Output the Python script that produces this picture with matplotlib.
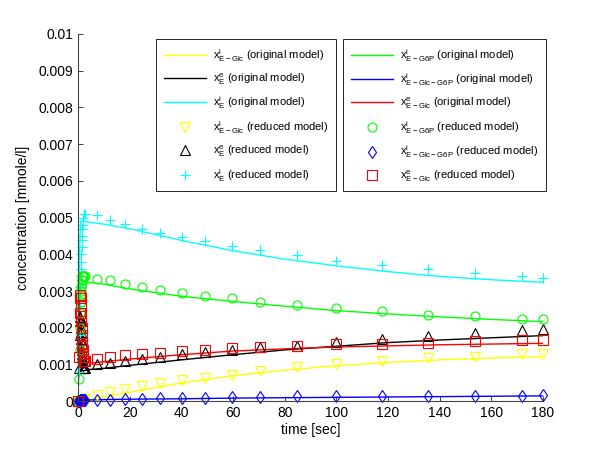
import matplotlib
matplotlib.use('Agg')
import matplotlib.pyplot as plt

plt.rcParams['font.family'] = ['Liberation Sans', 'DejaVu Sans']
plt.rcParams['mathtext.fontset'] = 'custom'
plt.rcParams['mathtext.rm'] = 'Liberation Sans'
plt.rcParams['mathtext.it'] = 'Liberation Sans'

# original model (lines)
t_orig = [0, 0.3, 0.6, 1.0, 1.5, 2, 3, 5, 10, 20, 40, 60, 80, 100, 120, 140, 160, 180]
yellow_orig = [0, 0, 0, 0.00001, 0.00001, 0.00002, 0.00003, 0.00005, 0.00012, 0.00025,
               0.0005, 0.0007, 0.00085, 0.00097, 0.00106, 0.00113, 0.00118, 0.00122]
black_orig = [0, 0.0011, 0.0021, 0.0018, 0.0012, 0.0010, 0.00088, 0.00087, 0.0009, 0.00098,
              0.00113, 0.00127, 0.0014, 0.0015, 0.0016, 0.00167, 0.00173, 0.00179]
cyan_orig = [0, 0.002, 0.004, 0.0049, 0.00492, 0.0049, 0.00489, 0.00487, 0.00482, 0.0047,
             0.00438, 0.0041, 0.00387, 0.00369, 0.00353, 0.0034, 0.00331, 0.00324]
green_orig = [0, 0.0012, 0.0025, 0.0032, 0.00326, 0.00325, 0.00324, 0.00323, 0.00319, 0.00306,
              0.00286, 0.00272, 0.00259, 0.00247, 0.00238, 0.0023, 0.00223, 0.00217]
blue_orig = [0, 0, 0.00001, 0.00002, 0.00003, 0.00003, 0.00004, 0.00004, 0.00005, 0.00006,
             0.00007, 0.00009, 0.0001, 0.00011, 0.00012, 0.00013, 0.00014, 0.00015]
red_orig = [0, 0.0015, 0.0027, 0.0024, 0.0017, 0.0013, 0.00106, 0.00104, 0.00108, 0.00115,
            0.00127, 0.00137, 0.00143, 0.00148, 0.00151, 0.00154, 0.00156, 0.00158]

# reduced model (markers): dense solver steps at the start, then the coarse grid
t_red = [0.0, 0.3, 0.6, 0.8, 0.9, 1.0, 1.1, 1.2, 1.3, 1.4, 1.5, 1.6, 1.7, 1.8, 1.9, 2.0, 2.2,
         2.7, 7.3, 12.4, 18.2, 24.8, 31.9, 40.4, 49.3, 59.6, 70.5, 84.7, 99.8, 117.6, 135.4,
         153.6, 171.8, 180]
yellow_red = [0, 0, 0, 0.00001, 0.00001, 0.00001, 0.00002, 0.00002, 0.00002, 0.00003, 0.00003,
              0.00003, 0.00003, 0.00004, 0.00004, 0.00004, 0.00005,
              0.00007, 0.00017, 0.00025, 0.00033, 0.00042, 0.00051, 0.00057, 0.00064, 0.00073,
              0.00084, 0.00093, 0.00102, 0.00111, 0.00119, 0.00122, 0.00128, 0.0013]
black_red = [0, 0.0009, 0.0018, 0.0022, 0.0023, 0.0022, 0.002, 0.0019, 0.0017, 0.0016, 0.0014,
             0.0013, 0.0012, 0.0011, 0.001, 0.0009, 0.0009,
             0.0009, 0.00101, 0.00104, 0.00111, 0.00116, 0.00122, 0.00128, 0.00134, 0.00139,
             0.00148, 0.00152, 0.00161, 0.0017, 0.00179, 0.00186, 0.00193, 0.00196]
cyan_red = [0, 0.0008, 0.0018, 0.0026, 0.0031, 0.0034, 0.0036, 0.0038, 0.004, 0.0042, 0.0044,
            0.0045, 0.0047, 0.0048, 0.0049, 0.005, 0.0051,
            0.00511, 0.00508, 0.00494, 0.00483, 0.00469, 0.00458, 0.00446, 0.00435, 0.00424,
            0.00412, 0.00397, 0.00383, 0.0037, 0.00359, 0.00348, 0.0034, 0.00337]
green_red = [0, 0.0006, 0.0014, 0.002, 0.0024, 0.0027, 0.0029, 0.003, 0.0031, 0.0032, 0.0033,
             0.0033, 0.0034, 0.0034, 0.0034, 0.0034, 0.0034,
             0.00342, 0.00334, 0.00329, 0.0032, 0.00311, 0.00304, 0.00295, 0.00288, 0.00281,
             0.0027, 0.00261, 0.00255, 0.00245, 0.00236, 0.00231, 0.00225, 0.00223]
blue_red = [0, 0.00001, 0.00002, 0.00002, 0.00003, 0.00003, 0.00003, 0.00003, 0.00004, 0.00004,
            0.00004, 0.00004, 0.00004, 0.00004, 0.00004, 0.00004, 0.00004,
            0.00004, 0.00005, 0.00005, 0.00006, 0.00007, 0.00008, 0.00009, 0.0001, 0.00011,
            0.00012, 0.00014, 0.00014, 0.00014, 0.00014, 0.00016, 0.00016, 0.00018]
red_red = [0, 0.0012, 0.0024, 0.0028, 0.0029, 0.0028, 0.0026, 0.0024, 0.0022, 0.002, 0.0018,
           0.0016, 0.0015, 0.0014, 0.0013, 0.0012, 0.0011,
           0.00111, 0.00116, 0.00122, 0.00125, 0.0013, 0.00132, 0.00137, 0.0014, 0.00146,
           0.00148, 0.0015, 0.00157, 0.00157, 0.00158, 0.00164, 0.00166, 0.00166]

YELLOW = '#ffff00'
CYAN = '#00ffff'
GREEN = '#00ff00'
BLUE = '#0000ff'
RED = '#ff0000'

names_left = [r'$\mathrm{x^i_{E-Glc}}$', r'$\mathrm{x^e_E}$', r'$\mathrm{x^i_E}$']
names_right = [r'$\mathrm{x^i_{E-G6P}}$', r'$\mathrm{x^i_{E-Glc-G6P}}$', r'$\mathrm{x^e_{E-Glc}}$']

fig = plt.figure(figsize=(6.0, 4.51), dpi=100)
ax = fig.add_axes([0.13, 0.11, 0.775, 0.815])

lw = 1.0
l1, = ax.plot(t_orig, yellow_orig, color=YELLOW, lw=lw)
l2, = ax.plot(t_orig, black_orig, color='k', lw=lw)
l3, = ax.plot(t_orig, cyan_orig, color=CYAN, lw=lw)
l4, = ax.plot(t_orig, green_orig, color=GREEN, lw=lw)
l5, = ax.plot(t_orig, blue_orig, color=BLUE, lw=lw)
l6, = ax.plot(t_orig, red_orig, color=RED, lw=lw)

mk = dict(ls='none', mfc='none', ms=6.5, mew=0.8, clip_on=False)
m1, = ax.plot(t_red, yellow_red, marker='v', color=YELLOW, mec=YELLOW, **mk)
m2, = ax.plot(t_red, black_red, marker='^', color='k', mec='k', **mk)
m3, = ax.plot(t_red, cyan_red, marker='+', color=CYAN, mec=CYAN, **mk)
m4, = ax.plot(t_red, green_red, marker='o', color=GREEN, mec=GREEN, **mk)
m5, = ax.plot(t_red, blue_red, marker='d', color=BLUE, mec=BLUE, **mk)
m6, = ax.plot(t_red, red_red, marker='s', color=RED, mec=RED, **mk)

ax.set_xlim(0, 180)
ax.set_ylim(0, 0.01)
ax.set_xticks(range(0, 181, 20))
yt = [i / 1000 for i in range(11)]
ax.set_yticks(yt)
ax.set_yticklabels(['0'] + ['%g' % v for v in yt[1:]])
ax.tick_params(direction='in', length=3.5, width=0.6, labelsize=10, colors='#222222',
               labelcolor='k')
for side in ['top', 'right']:
    ax.spines[side].set_visible(False)
for side in ['left', 'bottom']:
    ax.spines[side].set_color('#444444')
    ax.spines[side].set_linewidth(0.8)

ax.set_xlabel('time [sec]', fontsize=10, labelpad=2)
ax.set_ylabel('concentration [mmole/l]', fontsize=10, labelpad=6)

leg_kw = dict(loc='upper left', fontsize=8, frameon=True, fancybox=False, framealpha=1,
              edgecolor='k', handlelength=3.8, handletextpad=0.6, labelspacing=0.7,
              borderpad=0.7, borderaxespad=0)
leg1 = fig.legend([l1, l2, l3, m1, m2, m3],
                  [n + ' (original model)' for n in names_left]
                  + [n + ' (reduced model)' for n in names_left],
                  bbox_to_anchor=(156 / 600, 1 - 39 / 451), **leg_kw)
leg1.get_frame().set_linewidth(0.6)
leg2 = fig.legend([l4, l5, l6, m4, m5, m6],
                  [n + ' (original model)' for n in names_right]
                  + [n + ' (reduced model)' for n in names_right],
                  bbox_to_anchor=(343 / 600, 1 - 39 / 451), **leg_kw)
leg2.get_frame().set_linewidth(0.6)

fig.savefig('out.png', dpi=100)
